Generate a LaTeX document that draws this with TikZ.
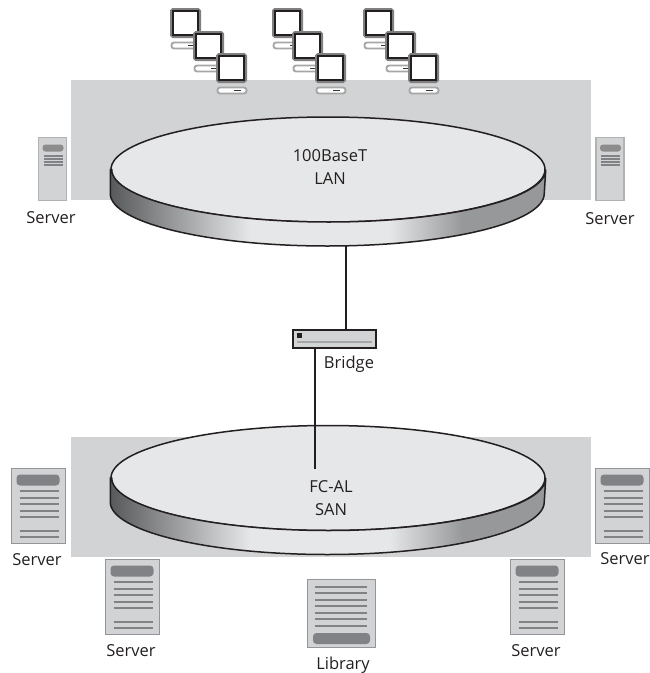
\documentclass[tikz,border=0pt]{standalone}
\usepackage{fontspec}
\setmainfont{Open Sans}
\usetikzlibrary{shapes.geometric}
\definecolor{backgray}{RGB}{209,211,212}
\definecolor{topgray}{RGB}{230,231,232}
\definecolor{linegray}{RGB}{128,130,133}
\definecolor{edgegray}{RGB}{147,149,152}
\definecolor{darkink}{RGB}{35,31,32}
\definecolor{sideleft}{RGB}{88,89,91}
\definecolor{sideright}{RGB}{150,152,154}
\pgfdeclarehorizontalshading{sidegrad}{100bp}{color(0bp)=(sideleft); color(25bp)=(sideleft); color(41bp)=(topgray); color(57bp)=(topgray); color(65.5bp)=(sideright); color(100bp)=(sideright)}
\tikzset{
  disc/.style={ellipse,draw=darkink,line width=1.5pt,fill=topgray,minimum width=434pt,minimum height=105pt,inner sep=0pt},
  lbl/.style={font=\fontsize{16.5}{23}\selectfont,text=darkink,align=center,inner sep=0pt},
  wire/.style={line width=1.7pt,draw=darkink},
  rule/.style={line width=1.4pt,draw=linegray},
  pill/.style={fill=linegray,rounded corners=3.5pt},
}
% monitor and base, corner at top left
\newcommand{\pcset}[2]{
  \filldraw[fill=white,draw=black!35,line width=1.9pt,rounded corners=2.5pt] (#1+1.5,-#2-34.5) rectangle (#1+30.5,-#2-40.5);
  \fill[black!80] (#1+18,-#2-37) rectangle (#1+25,-#2-38);
  \filldraw[fill=white,draw=black!50,line width=3pt,rounded corners=1.5pt] (#1+1.5,-#2-1.5) rectangle (#1+29.5,-#2-28.5);
  \draw[darkink,line width=1.8pt,fill=white] (#1+3,-#2-3) rectangle (#1+28,-#2-27);
}
% upright server
\newcommand{\towerbox}[2]{
  \filldraw[fill=backgray,draw=black!30,line width=1.8pt] (#1,-#2) rectangle (#1+28,-#2-63);
  \fill[black!45,rounded corners=3pt] (#1+4,-#2-7) rectangle (#1+25,-#2-14);
  \foreach \k in {18,21,24,27}
    \draw[linegray,line width=1.2pt] (#1+5,-#2-\k-.5) -- (#1+24,-#2-\k-.5);
}
% wide server
\newcommand{\sheetbox}[2]{
  \filldraw[fill=backgray,draw=edgegray,line width=1.6pt] (#1,-#2) rectangle (#1+54,-#2-75);
  \fill[pill] (#1+5,-#2-6) rectangle (#1+48,-#2-17);
  \foreach \k in {22,29,35,42,48,62,68}
    \draw[rule] (#1+8,-#2-\k-.5) -- (#1+47,-#2-\k-.5);
}
\begin{document}
\begin{tikzpicture}[x=1pt,y=1pt]
\useasboundingbox (0,-673) rectangle (650,0);
\fill[backgray] (71,-80) rectangle (591,-200);
\fill[backgray] (71,-437) rectangle (591,-557);

\foreach \x/\y in {170/8,193/31,216/53,272/8,292/31,315/53,363/8,385/31,408/53}{
  \pcset{\x}{\y}
}

% LAN disc
\node[disc] (lan) at (328,-169.5) {};
\shade[shading=sidegrad,draw=darkink,line width=1.5pt] (lan.west) -- ++(0,-24) arc[start angle=180,end angle=360,x radius=217,y radius=52.5] -- (lan.east) arc[start angle=360,end angle=180,x radius=217,y radius=52.5] -- cycle;
\node[lbl] (lantext) at (330,-167.5) {100BaseT\\LAN};
\coordinate (lanport) at (346,-246);

% SAN disc
\node[disc] (san) at (328,-478) {};
\shade[shading=sidegrad,draw=darkink,line width=1.5pt] (san.west) -- ++(0,-24) arc[start angle=180,end angle=360,x radius=217,y radius=52.5] -- (san.east) arc[start angle=360,end angle=180,x radius=217,y radius=52.5] -- cycle;
\node[lbl] (santext) at (331,-498.5) {FC-AL\\SAN};
\coordinate (sanport) at (315,-469);

% bridge
\node[draw=darkink,line width=1.6pt,fill=backgray,minimum width=83pt,minimum height=18pt,inner sep=0pt] (bridge) at (334.5,-339) {};
\fill[darkink] (297,-333) rectangle (302,-338);
\draw[black!35,line width=1.4pt] (297,-342) -- (372,-342);
\node[lbl] (bridgetext) at (349,-364) {Bridge};
\draw[wire] (lanport) -- (lanport |- bridge.north);
\draw[wire] (sanport |- bridge.south) -- (sanport);

\towerbox{38.5}{137.5}
\node[lbl] (srv1) at (51,-218) {Server};
\towerbox{596}{137.5}
\node[lbl] (srv2) at (610,-219) {Server};

\sheetbox{11.5}{468.5}
\node[lbl] (srv3) at (37,-560) {Server};
\sheetbox{595.5}{468.5}
\node[lbl] (srv4) at (625,-559) {Server};
\sheetbox{105.5}{559.5}
\node[lbl] (srv5) at (131,-651) {Server};
\sheetbox{510.5}{559.5}
\node[lbl] (srv6) at (536,-651) {Server};

% library
\filldraw[fill=backgray,draw=edgegray,line width=1.6pt] (307.5,-579.5) rectangle (375.5,-647.5);
\foreach \k in {587,593,600,606,613,619,626}
  \draw[rule] (315,-\k) -- (367,-\k);
\fill[pill] (313,-633) rectangle (370,-644);
\node[lbl] (libtext) at (343,-665) {Library};
\end{tikzpicture}
\end{document}
